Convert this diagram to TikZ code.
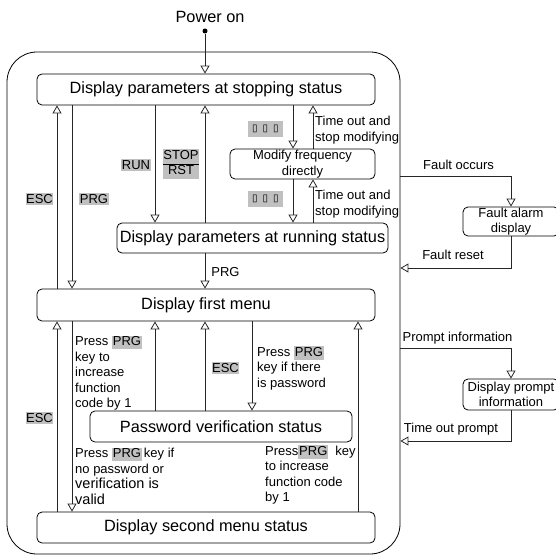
\documentclass[tikz,border=0pt]{standalone}
\usepackage{fontspec}
\setmainfont{Liberation Sans}
\newfontfamily\tofufont{DejaVu Sans}
\usetikzlibrary{arrows.meta,positioning}
\definecolor{keygray}{RGB}{192,192,192}
\newcommand{\lblfont}{\fontsize{13}{15.5}\selectfont}
\newcommand{\boxfont}{\fontsize{16.3}{19}\selectfont}
\newcommand{\hlkey}[1]{{\setlength{\fboxsep}{0.8pt}\colorbox{keygray}{\vphantom{Ag}#1}}}
\tikzset{
  outerbox/.style={
    draw,
    line width=0.8pt,
    rounded corners=30pt,
    minimum width=393pt,
    minimum height=502pt
  },
  state/.style={
    draw,
    line width=0.8pt,
    fill=white,
    rounded corners=5pt,
    inner sep=0pt,
    minimum height=31pt,
    font=\boxfont
  },
  smallstate/.style={
    state,
    align=center,
    font=\lblfont
  },
  flow/.style={
    draw=black!85,
    line width=0.8pt,
    -{Triangle[open,width=9pt,length=8pt]}
  },
  lbl/.style={
    font=\lblfont,
    inner sep=1pt
  },
  keylbl/.style={
    font=\lblfont,
    fill=keygray,
    inner xsep=0.6pt,
    inner ysep=1.6pt
  },
  powerdot/.style={
    circle,
    fill,
    inner sep=0pt,
    minimum size=5pt
  }
}

\begin{document}
\begin{tikzpicture}[x=1pt,y=-1pt]
    \useasboundingbox (0,0) rectangle (556,556);

    \node[outerbox] (outer) at (203.5,303) {};

    \node[font=\boxfont] (poweron) at (210,17) {Power on};
    \node[powerdot] (power) at (205,31) {};

    \node[state, minimum width=338pt] (stopping) at (206,89.5) {Display parameters at stopping status};
    \node[smallstate, minimum width=145pt, minimum height=30pt] (modify) at (302.5,164) {Modify frequency\\directly};
    \node[state, minimum width=271pt, minimum height=30pt] (running) at (252.5,238) {Display parameters at running status};
    \node[state, minimum width=338pt, minimum height=32pt] (firstmenu) at (206,305) {Display first menu};
    \node[state, minimum width=262pt] (password) at (221,426.5) {Password verification status};
    \node[state, minimum width=338pt] (secondmenu) at (206,527.5) {Display second menu status};
    \node[smallstate, minimum width=96pt, minimum height=29pt] (fault) at (511,221.5) {Fault alarm\\display};
    \node[smallstate, minimum width=96pt, minimum height=31pt] (prompt) at (511,394.5) {Display prompt\\information};

    \coordinate (escx) at (57,0);
    \coordinate (prgx) at (72,0);
    \coordinate (runx) at (155,0);
    \coordinate (stopx) at (205,0);
    \coordinate (pwdx) at (252,0);
    \coordinate (setx) at (293,0);
    \coordinate (backx) at (313,0);
    \coordinate (incx) at (358,0);
    \coordinate (faultin) at (0,176);
    \coordinate (faultback) at (0,268);
    \coordinate (promptin) at (0,348);
    \coordinate (promptback) at (0,441);

    \draw[flow] (power) -- (power |- stopping.north);
    \draw[flow] (firstmenu.north -| escx) -- (stopping.south -| escx);
    \draw[flow] (stopping.south -| prgx) -- (firstmenu.north -| prgx);
    \draw[flow] (stopping.south -| runx) -- (running.north -| runx);
    \draw[flow] (running.north -| stopx) -- (stopping.south -| stopx);
    \draw[flow] (stopping.south -| setx) -- (modify.north -| setx);
    \draw[flow] (modify.north -| backx) -- (stopping.south -| backx);
    \draw[flow] (modify.south -| setx) -- (running.north -| setx);
    \draw[flow] (running.north -| backx) -- (modify.south -| backx);
    \draw[flow] (running.south -| stopx) -- (firstmenu.north -| stopx);
    \draw[flow] (secondmenu.north -| escx) -- (firstmenu.south -| escx);
    \draw[flow] (firstmenu.south -| prgx) -- (secondmenu.north -| prgx);
    \draw[flow] (password.north -| runx) -- (firstmenu.south -| runx);
    \draw[flow] (password.north -| stopx) -- (firstmenu.south -| stopx);
    \draw[flow] (firstmenu.south -| pwdx) -- (password.north -| pwdx);
    \draw[flow] (secondmenu.north -| incx) -- (firstmenu.south -| incx);

    \draw[flow] (outer.east |- faultin) -| (fault.north);
    \draw[flow] (fault.south) |- (outer.east |- faultback);
    \draw[flow] (outer.east |- promptin) -| (prompt.north);
    \draw[flow] (prompt.south) |- (outer.east |- promptback);

    \node[keylbl] (esctop) at (39.5,199) {ESC};
    \node[keylbl] (prgtop) at (94,199) {PRG};
    \node[keylbl] (run) at (136,165) {RUN};
    \node[keylbl, inner ysep=0.5pt] (stoprst) at (181,164) {\renewcommand{\arraystretch}{0.95}\begin{tabular}{@{}c@{}}STOP\\\hline RST\end{tabular}};
    \node[keylbl, minimum width=35pt, minimum height=16pt] (dotsup) at (265.5,129) {\tofufont\fontsize{10}{12}\selectfont ▯\hspace{5pt}▯\hspace{5pt}▯};
    \node[keylbl, minimum width=35pt, minimum height=16pt] (dotsdown) at (265.5,199) {\tofufont\fontsize{10}{12}\selectfont ▯\hspace{5pt}▯\hspace{5pt}▯};
    \node[lbl, anchor=west, align=left] (timeoutup) at (314,130) {Time out and\\stop modifying};
    \node[lbl, anchor=west, align=left] (timeoutdown) at (314,204) {Time out and\\stop modifying};
    \node[lbl] (prgmid) at (225.5,272) {PRG};

    \node[lbl] (faultoccurs) at (458.5,165) {Fault occurs};
    \node[lbl] (faultreset) at (453,255) {Fault reset};
    \node[lbl] (promptinfo) at (457.5,338) {Prompt information};
    \node[lbl] (timeoutprompt) at (451,429) {Time out prompt};

    \node[keylbl] (escbottom) at (39.5,418) {ESC};
    \node[keylbl] (escmid) at (225.5,368) {ESC};
    \node[lbl, anchor=west, align=left] (incleft) at (74,373) {Press \hlkey{PRG}\\key to\\increase\\function\\code by 1};
    \node[lbl, anchor=west, align=left] (haspwd) at (256,368) {Press \hlkey{PRG}\\key if there\\is password};
    \node[lbl, anchor=west, align=left] (nopwd) at (74,476) {Press \hlkey{PRG}\,key if\\no password or\\{\fontsize{14.5}{15.5}\selectfont verification is}\\{\fontsize{14.5}{15.5}\selectfont valid}};
    \node[lbl, anchor=west, align=left] (incright) at (264,475) {Press\hlkey{PRG}\ \ key\\to increase\\function code\\by 1};
\end{tikzpicture}
\end{document}
